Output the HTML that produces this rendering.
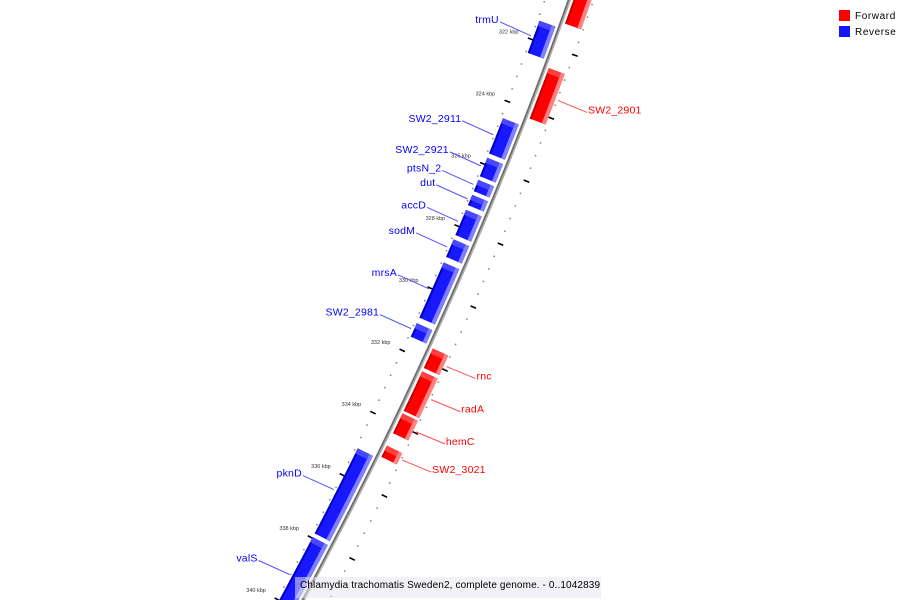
<!DOCTYPE html>
<html><head><meta charset="utf-8"><style>
html,body{margin:0;padding:0;background:#fff;overflow:hidden}
svg{display:block}
text{font-family:"Liberation Sans","DejaVu Sans",sans-serif}
</style></head><body>
<svg id="map" width="900" height="600" viewBox="0 0 900 600" xmlns="http://www.w3.org/2000/svg">
<g id="ticks"></g>
<g id="backbone"></g>
<g id="features"></g>
<g id="labels"></g>
<g>
<rect x="839" y="10" width="11" height="11" fill="#ff0000"/>
<text x="855" y="19" font-size="10" letter-spacing="0.6" fill="#000">Forward</text>
<rect x="839" y="26" width="11" height="11" fill="#1414ff"/>
<text x="855" y="35" font-size="10" letter-spacing="0.6" fill="#000">Reverse</text>
</g>
<g>
<rect x="295" y="577" width="306" height="21" fill="rgba(230,230,240,0.55)"/>
<text x="300" y="588" font-size="10" letter-spacing="0.12" fill="#000">Chlamydia trachomatis Sweden2, complete genome. - 0..1042839</text>
</g>
</svg>
<script>
// data (kbp)
const featureNames = ["trmU","SW2_2911","SW2_2921","ptsN_2","dut","accD","sodM","mrsA","SW2_2981","pknD","valS","","SW2_2901","rnc","radA","hemC","SW2_3021"];
const featureStarts = [321.35,324.48,325.75,326.46,326.94,327.42,328.37,329.11,331.06,335.08,337.93,320.0,322.59,331.54,332.27,333.61,334.64];
const featureEnds   = [322.46,325.69,326.42,326.90,327.35,328.31,329.01,330.96,331.57,337.89,340.5,321.25,324.28,332.24,333.61,334.32,335.08];
const featureStrands = ["-","-","-","-","-","-","-","-","-","-","-","+","+","+","+","+","+"];
const majorTicks = [320,322,324,326,328,330,332,334,336,338,340,342];
const majorTickLabels = ["320 kbp","322 kbp","324 kbp","326 kbp","328 kbp","330 kbp","332 kbp","334 kbp","336 kbp","338 kbp","340 kbp","342 kbp"];
const minorStep = 0.4;

const NS="http://www.w3.org/2000/svg";
const CX=-3386, CY=-1395, R=4194;
function theta(kbp){ const y=47+31.3*(kbp-322); return Math.asin((y-CY)/R); }
function pt(kbp,r){ const t=theta(kbp); return [CX+r*Math.cos(t), CY+r*Math.sin(t)]; }
function mk(tag,attrs,parent){ const e=document.createElementNS(NS,tag); for(const k in attrs) e.setAttribute(k,attrs[k]); parent.appendChild(e); return e; }
function arcPoly(a,b,r1,r2){
  const pts=[]; const n=Math.max(2,Math.ceil((b-a)*6));
  for(let i=0;i<=n;i++){ pts.push(pt(a+(b-a)*i/n,r1)); }
  for(let i=n;i>=0;i--){ pts.push(pt(a+(b-a)*i/n,r2)); }
  return pts.map(p=>p[0].toFixed(2)+","+p[1].toFixed(2)).join(" ");
}
const gT=document.getElementById("ticks"), gB=document.getElementById("backbone"),
      gF=document.getElementById("features"), gL=document.getElementById("labels");

// backbone
{
  const pts=[]; for(let k=319.5;k<=341.5;k+=0.1){ pts.push(pt(k,R).map(v=>v.toFixed(2)).join(",")); }
  const l1=mk("polyline",{points:pts.join(" "),fill:"none",stroke:"#6e6e6e","stroke-width":3.2},gB);
  
  
  const pts2=[]; for(let k=319.5;k<=341.5;k+=0.1){ pts2.push(pt(k,R+0.8).map(v=>v.toFixed(2)).join(",")); }
  const l2=mk("polyline",{points:pts2.join(" "),fill:"none",stroke:"#b4b4b4","stroke-width":1.2},gB);
  
  
}
// ticks
majorTicks.forEach((k,i)=>{
  const a=pt(k,R-20), b=pt(k,R-26);
  const t=mk("line",{x1:a[0],y1:a[1],x2:b[0],y2:b[1],stroke:"#000","stroke-width":1.6},gT);
  
  
  const c=pt(k,R+21), d=pt(k,R+27);
  const t2=mk("line",{x1:c[0],y1:c[1],x2:d[0],y2:d[1],stroke:"#000","stroke-width":1.6},gT);
  
  
  const p=pt(k,R-36);
  const tx=mk("text",{x:p[0],y:p[1]-1,"font-size":5.5,fill:"#333","text-anchor":"end"},gT);
  tx.textContent=majorTickLabels[i];
  
  
});
for(let k=majorTicks[0];k<=majorTicks[majorTicks.length-1]+0.001;k+=minorStep){
  const rem=Math.abs(((k-majorTicks[0])/2)-Math.round((k-majorTicks[0])/2));
  if(rem<0.01) continue;
  [R-23,R+23].forEach(r=>{
    const p=pt(k,r);
    const d=mk("circle",{cx:p[0],cy:p[1],r:0.9,fill:"#888"},gT);
    
    
  });
}
// features
featureNames.forEach((name,i)=>{
  const s=featureStarts[i], e=featureEnds[i], fwd=featureStrands[i]==="+";
  const g=mk("g",{},gF);
  
  
  const r1 = fwd ? R+4 : R-21, r2 = fwd ? R+21 : R-4;
  const main = fwd ? "#ff0000" : "#1818ff", dark = fwd ? "#c80000" : "#0000c8", light = fwd ? "#ff8080" : "#8080ff", top = fwd ? "#ff4040" : "#4848ff";
  const gap=0.04;
  mk("polygon",{points:arcPoly(s+gap,e-gap,r1,r2),fill:main},g);
  mk("polygon",{points:arcPoly(s+gap,e-gap,r1,r1+2),fill:dark},g);
  mk("polygon",{points:arcPoly(s+gap,e-gap,r2-4,r2),fill:light},g);
  mk("polygon",{points:arcPoly(s+gap,Math.min(e-gap,s+0.2),r1,r2-4),fill:top},g);
  if(name){
    const mid=(s+e)/2;
    const pe = fwd ? pt(mid,R+24) : pt(mid,R-24);
    const lx = fwd ? pe[0]+29 : pe[0]-31, ly = fwd ? pe[1]+12 : pe[1]-14;
    const col = fwd ? "#ff0000" : "#0000ff";
    const ln=mk("line",{x1:pe[0],y1:pe[1],x2:lx,y2:ly,stroke:fwd?"#ff5050":"#5050ff","stroke-width":1},gL);
    
    
    const tx=mk("text",{x:fwd?lx+1:lx-1,y:ly+1,"font-size":10.5,"letter-spacing":0.2,fill:col,"text-anchor":fwd?"start":"end"},gL);
    tx.textContent=name;
    
    
  }
});
</script>
</body></html>
